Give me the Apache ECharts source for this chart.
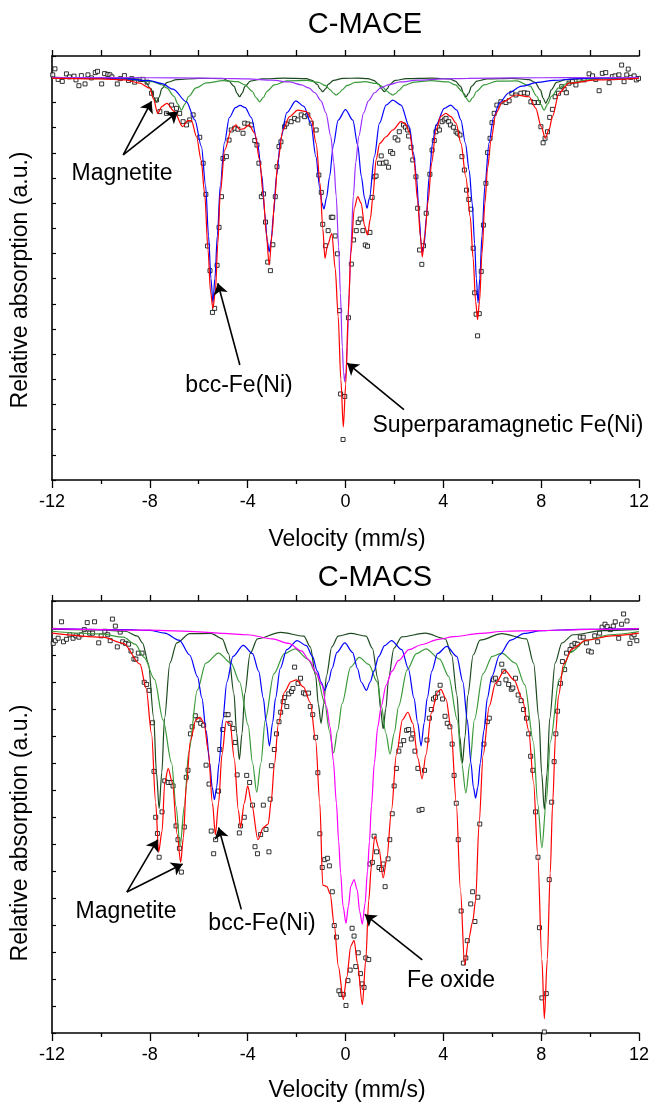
<!DOCTYPE html>
<html><head><meta charset="utf-8">
<script src="https://cdn.jsdelivr.net/npm/echarts@6/dist/echarts.min.js"></script>
<style>html,body{margin:0;padding:0;background:#fff}#c{width:652px;height:1105px}</style>
</head><body><div id="c"></div>
<script>
// ---------- axis values ----------
const X_MIN = -12, X_MAX = 12, X_STEP = 4;
const TOP_Y = {min: -16, max: 0.85};
const BOT_Y = {min: -15, max: 1};
const TITLES = ['C-MACE', 'C-MACS'];
const X_NAME = 'Velocity (mm/s)';
const Y_NAME = 'Relative absorption (a.u.)';

// ---------- C-MACE (top) ----------
const topMeasured = [[-11.97,0.10],[-11.88,0.34],[-11.75,-0.08],[-11.58,-0.16],[-11.41,0.14],[-11.29,0.02],[-11.10,0.05],[-11.02,-0.10],[-10.90,-0.33],[-10.80,0.07],[-10.65,-0.26],[-10.53,0.10],[-10.39,-0.02],[-10.23,0.19],[-10.14,0.24],[-9.97,-0.26],[-9.85,0.15],[-9.72,0.12],[-9.63,0.10],[-9.55,0.02],[-9.33,-0.26],[-9.21,-0.05],[-9.04,0.07],[-8.87,-0.12],[-8.74,-0.05],[-8.62,-0.19],[-8.40,-0.08],[-8.28,-0.08],[-8.11,-0.19],[-7.93,-0.63],[-7.73,-0.90],[-7.59,-1.36],[-7.32,-1.43],[-7.11,-1.10],[-6.91,-1.23],[-6.78,-1.43],[-6.64,-1.76],[-6.50,-1.89],[-6.37,-1.69],[-6.23,-1.49],[-5.96,-2.38],[-5.82,-3.41],[-5.71,-4.65],[-5.64,-6.70],[-5.54,-7.68],[-5.44,-9.34],[-5.35,-9.18],[-5.25,-7.47],[-5.17,-5.96],[-5.07,-4.74],[-5.01,-3.22],[-4.87,-3.15],[-4.76,-2.49],[-4.67,-2.09],[-4.53,-2.02],[-4.40,-2.06],[-4.19,-2.22],[-4.12,-1.82],[-3.99,-1.85],[-3.85,-1.89],[-3.71,-2.51],[-3.62,-2.69],[-3.54,-3.41],[-3.44,-4.74],[-3.35,-4.63],[-3.27,-5.75],[-3.18,-7.34],[-3.07,-7.68],[-2.97,-6.65],[-2.87,-4.74],[-2.80,-3.55],[-2.72,-2.75],[-2.64,-2.56],[-2.49,-1.96],[-2.42,-1.85],[-2.22,-1.76],[-2.08,-1.63],[-1.95,-1.69],[-1.81,-1.49],[-1.67,-1.56],[-1.54,-1.49],[-1.40,-1.82],[-1.20,-2.09],[-1.09,-3.88],[-0.99,-4.57],[-0.93,-5.84],[-0.82,-6.69],[-0.71,-6.09],[-0.58,-5.56],[-0.52,-5.56],[-0.42,-6.30],[-0.33,-7.01],[-0.24,-9.27],[-0.20,-12.58],[-0.10,-14.39],[-0.03,-12.68],[0.12,-9.55],[0.24,-7.42],[0.33,-6.46],[0.44,-6.09],[0.52,-5.77],[0.60,-5.63],[0.71,-6.09],[0.81,-6.66],[0.90,-6.71],[1.00,-6.16],[1.09,-4.77],[1.18,-3.95],[1.25,-3.92],[1.39,-3.41],[1.46,-3.12],[1.55,-3.41],[1.66,-3.37],[1.76,-3.57],[1.84,-2.95],[1.93,-3.02],[2.03,-2.40],[2.14,-2.49],[2.20,-2.16],[2.37,-1.89],[2.45,-1.98],[2.54,-2.09],[2.58,-2.33],[2.68,-2.78],[2.75,-3.28],[2.88,-3.95],[2.95,-5.20],[3.03,-6.86],[3.12,-7.43],[3.19,-6.69],[3.30,-5.40],[3.45,-3.85],[3.54,-2.89],[3.63,-2.51],[3.70,-2.16],[3.77,-1.98],[3.84,-2.09],[3.95,-1.76],[4.04,-1.69],[4.11,-1.63],[4.22,-1.76],[4.29,-1.89],[4.41,-1.98],[4.52,-2.16],[4.59,-2.22],[4.68,-2.29],[4.76,-3.15],[4.86,-3.68],[4.95,-4.48],[5.04,-4.85],[5.13,-5.24],[5.22,-6.79],[5.28,-8.56],[5.34,-9.41],[5.40,-10.27],[5.47,-9.39],[5.55,-7.71],[5.64,-5.87],[5.74,-4.21],[5.81,-2.99],[5.91,-2.42],[5.99,-1.80],[6.08,-1.43],[6.19,-1.10],[6.35,-0.97],[6.56,-1.00],[6.69,-0.93],[6.80,-0.63],[6.97,-0.70],[7.17,-0.63],[7.31,-0.61],[7.44,-0.63],[7.58,-0.97],[7.71,-1.00],[7.89,-1.00],[7.99,-1.96],[8.08,-2.60],[8.16,-2.42],[8.26,-2.16],[8.35,-1.59],[8.46,-1.27],[8.57,-0.77],[8.71,-0.63],[8.84,-0.37],[8.94,-0.47],[9.03,-0.61],[9.14,-0.23],[9.28,-0.17],[9.42,-0.30],[9.55,-0.10],[9.76,-0.10],[9.96,0.14],[10.10,0.06],[10.23,-0.08],[10.37,-0.53],[10.50,0.16],[10.64,0.19],[10.78,-0.21],[10.91,0.03],[11.02,0.06],[11.18,0.10],[11.29,0.49],[11.39,-0.17],[11.50,0.10],[11.56,0.33],[11.66,0.00],[11.80,0.06],[11.89,-0.10],[11.98,-0.04]];

const topFit = [[-12,-0.03],[-10,-0.06],[-9,-0.1],[-8.41,-0.23],[-8.0,-0.43],[-7.85,-0.85],[-7.68,-1.43],[-7.5,-1.15],[-7.3,-1.03],[-7.0,-1.35],[-6.66,-1.96],[-6.45,-1.72],[-6.30,-1.72],[-6.09,-2.36],[-5.90,-3.3],[-5.76,-4.61],[-5.62,-6.86],[-5.52,-8.5],[-5.42,-9.18],[-5.32,-8.5],[-5.22,-6.6],[-5.12,-4.61],[-4.94,-2.89],[-4.67,-2.09],[-4.48,-1.89],[-4.33,-2.07],[-4.19,-2.05],[-3.95,-1.89],[-3.71,-2.22],[-3.51,-3.28],[-3.36,-4.7],[-3.24,-6.2],[-3.12,-7.46],[-3.0,-6.2],[-2.9,-4.87],[-2.76,-3.28],[-2.56,-2.09],[-2.29,-1.56],[-1.95,-1.30],[-1.60,-1.36],[-1.40,-1.63],[-1.20,-2.62],[-1.04,-4.21],[-0.93,-6.0],[-0.84,-7.19],[-0.74,-6.7],[-0.56,-6.20],[-0.42,-7.6],[-0.30,-9.5],[-0.19,-12.0],[-0.09,-13.89],[0.01,-12.2],[0.11,-9.4],[0.22,-7.0],[0.36,-5.2],[0.50,-4.74],[0.64,-5.0],[0.78,-5.9],[0.90,-6.26],[1.02,-5.6],[1.12,-4.74],[1.25,-3.28],[1.40,-2.62],[1.66,-2.36],[1.93,-2.09],[2.27,-1.76],[2.45,-1.85],[2.62,-2.2],[2.80,-3.3],[2.95,-4.9],[3.06,-6.3],[3.14,-7.14],[3.24,-6.3],[3.38,-4.9],[3.52,-3.41],[3.70,-2.1],[3.9,-1.55],[4.10,-1.43],[4.31,-1.56],[4.52,-1.82],[4.72,-2.62],[4.92,-3.95],[5.10,-5.54],[5.22,-7.2],[5.32,-8.9],[5.40,-9.63],[5.48,-8.9],[5.58,-7.0],[5.70,-5.0],[5.81,-3.6],[5.95,-2.49],[6.15,-1.43],[6.42,-0.97],[6.97,-0.70],[7.51,-0.77],[7.78,-1.23],[8.0,-1.95],[8.17,-2.42],[8.33,-2.05],[8.46,-1.56],[8.73,-0.63],[9.14,-0.23],[10.23,-0.10],[12,-0.04]];

const topBcc = [[-12,0],[-10,-0.03],[-9,-0.06],[-8.0,-0.13],[-7.5,-0.25],[-7.05,-0.47],[-6.5,-0.97],[-6.16,-1.69],[-5.89,-2.75],[-5.72,-4.3],[-5.6,-6.3],[-5.50,-8.0],[-5.42,-8.96],[-5.34,-8.0],[-5.24,-6.3],[-5.12,-4.3],[-4.95,-2.6],[-4.75,-1.6],[-4.5,-1.2],[-4.31,-1.11],[-4.1,-1.2],[-3.85,-1.6],[-3.6,-2.6],[-3.42,-3.9],[-3.30,-5.4],[-3.20,-6.5],[-3.12,-6.93],[-3.04,-6.5],[-2.94,-5.4],[-2.82,-3.9],[-2.64,-2.4],[-2.4,-1.4],[-2.03,-0.93],[-1.7,-1.15],[-1.42,-1.82],[-1.21,-3.15],[-1.05,-4.4],[-0.96,-5.0],[-0.88,-5.23],[-0.78,-4.8],[-0.65,-3.95],[-0.5,-2.7],[-0.3,-1.7],[0.0,-1.28],[0.3,-1.7],[0.5,-2.7],[0.65,-3.95],[0.78,-4.8],[0.88,-5.20],[0.98,-4.8],[1.18,-3.15],[1.39,-1.82],[1.66,-1.10],[1.93,-0.90],[2.27,-1.10],[2.61,-1.96],[2.78,-3.0],[2.90,-3.95],[3.02,-5.6],[3.09,-6.6],[3.15,-6.93],[3.22,-6.6],[3.30,-5.6],[3.42,-3.95],[3.56,-2.6],[3.70,-1.9],[4.04,-1.23],[4.30,-1.10],[4.55,-1.3],[4.72,-1.7],[4.90,-2.6],[5.06,-3.7],[5.18,-5.0],[5.28,-6.6],[5.35,-8.0],[5.42,-8.96],[5.49,-8.0],[5.58,-6.3],[5.70,-4.3],[5.87,-2.6],[6.05,-1.6],[6.3,-1.0],[6.67,-0.62],[7.2,-0.35],[7.86,-0.2],[8.5,-0.12],[9.55,-0.05],[10.5,-0.02],[12,0]];

const topSuperpara = [[-12,-0.01],[-9,-0.01],[-7,-0.02],[-5,-0.04],[-4,-0.06],[-3,-0.11],[-2.3,-0.18],[-1.8,-0.30],[-1.5,-0.42],[-1.25,-0.61],[-1.0,-0.93],[-0.8,-1.41],[-0.6,-2.35],[-0.48,-3.38],[-0.38,-4.72],[-0.28,-6.73],[-0.21,-8.56],[-0.13,-10.73],[-0.08,-11.71],[-0.03,-12.1],[0.02,-11.71],[0.07,-10.73],[0.15,-8.56],[0.22,-6.73],[0.32,-4.72],[0.42,-3.38],[0.54,-2.35],[0.74,-1.41],[0.94,-0.93],[1.19,-0.61],[1.44,-0.42],[1.74,-0.30],[2.24,-0.18],[2.94,-0.11],[4,-0.06],[5,-0.04],[7,-0.02],[9,-0.01],[12,-0.01]];

const topMagA = [[-12,-0.01],[-9,-0.03],[-8.5,-0.07],[-8.2,-0.17],[-7.95,-0.45],[-7.84,-0.78],[-7.73,-0.97],[-7.62,-0.78],[-7.51,-0.45],[-7.29,-0.2],[-6.9,-0.09],[-6,-0.04],[-5,-0.05],[-4.77,-0.15],[-4.55,-0.36],[-4.44,-0.62],[-4.33,-0.77],[-4.22,-0.62],[-4.11,-0.36],[-3.89,-0.15],[-3.4,-0.06],[-2.5,-0.03],[-1.6,-0.05],[-1.37,-0.12],[-1.15,-0.28],[-1.04,-0.46],[-0.93,-0.57],[-0.82,-0.46],[-0.71,-0.28],[-0.49,-0.12],[-0.1,-0.04],[0.5,-0.03],[0.92,-0.05],[1.15,-0.12],[1.37,-0.28],[1.48,-0.46],[1.59,-0.57],[1.70,-0.46],[1.81,-0.28],[2.03,-0.12],[2.5,-0.05],[3.5,-0.03],[4.26,-0.06],[4.49,-0.15],[4.71,-0.36],[4.82,-0.62],[4.93,-0.77],[5.04,-0.62],[5.15,-0.36],[5.37,-0.15],[5.8,-0.06],[6.8,-0.04],[7.5,-0.09],[7.75,-0.2],[7.97,-0.5],[8.08,-0.82],[8.19,-1.03],[8.30,-0.82],[8.41,-0.5],[8.63,-0.2],[9.0,-0.09],[10,-0.03],[12,-0.01]];

const topMagB = [[-12,-0.02],[-9.5,-0.05],[-8.5,-0.1],[-7.9,-0.17],[-7.5,-0.3],[-7.31,-0.42],[-7.01,-0.75],[-6.86,-1.05],[-6.71,-1.30],[-6.56,-1.05],[-6.41,-0.75],[-6.11,-0.42],[-5.7,-0.22],[-5.0,-0.13],[-4.4,-0.17],[-4.11,-0.3],[-3.81,-0.55],[-3.66,-0.8],[-3.51,-0.97],[-3.36,-0.8],[-3.21,-0.55],[-2.91,-0.3],[-2.4,-0.14],[-1.6,-0.12],[-1.1,-0.2],[-0.83,-0.32],[-0.62,-0.5],[-0.5,-0.62],[-0.38,-0.70],[-0.26,-0.62],[-0.14,-0.5],[0.07,-0.32],[0.4,-0.2],[0.8,-0.17],[1.26,-0.24],[1.48,-0.35],[1.7,-0.55],[1.82,-0.64],[1.93,-0.70],[2.05,-0.64],[2.18,-0.52],[2.4,-0.32],[2.8,-0.19],[3.5,-0.13],[4.2,-0.18],[4.5,-0.3],[4.76,-0.55],[4.91,-0.8],[5.06,-0.97],[5.21,-0.8],[5.36,-0.55],[5.66,-0.3],[6.2,-0.15],[7.0,-0.14],[7.55,-0.35],[7.82,-0.75],[7.97,-1.05],[8.12,-1.30],[8.27,-1.05],[8.42,-0.75],[8.72,-0.42],[9.1,-0.22],[10,-0.09],[11,-0.04],[12,-0.02]];

// ---------- C-MACS (bottom) ----------
const botMeasured = [[-11.95,-0.57],[-11.86,-0.47],[-11.75,-0.38],[-11.61,0.23],[-11.53,-0.51],[-11.41,-0.42],[-11.27,-0.25],[-11.14,-0.38],[-11.02,-0.29],[-10.90,-0.34],[-10.80,-0.25],[-10.68,-0.06],[-10.56,0.20],[-10.46,-0.19],[-10.34,-0.19],[-10.26,0.23],[-10.09,-0.55],[-9.99,-0.29],[-9.84,-0.12],[-9.72,-0.25],[-9.62,-0.47],[-9.53,0.33],[-9.41,0.07],[-9.33,-0.70],[-9.21,-0.15],[-9.11,-0.51],[-8.99,-0.57],[-8.87,-0.60],[-8.77,-0.85],[-8.65,-1.15],[-8.57,-1.15],[-8.47,-0.93],[-8.32,-0.93],[-8.23,-2.01],[-8.13,-2.09],[-8.03,-2.31],[-7.89,-3.51],[-7.83,-5.31],[-7.76,-7.01],[-7.69,-7.61],[-7.62,-8.49],[-7.50,-6.81],[-7.39,-5.66],[-7.25,-5.72],[-7.13,-5.72],[-7.05,-5.85],[-6.93,-7.33],[-6.85,-7.84],[-6.79,-8.16],[-6.71,-9.04],[-6.59,-7.37],[-6.51,-5.53],[-6.44,-5.27],[-6.34,-3.92],[-6.27,-3.66],[-6.14,-3.25],[-6.03,-3.40],[-5.92,-3.53],[-5.80,-3.60],[-5.70,-5.08],[-5.58,-5.78],[-5.49,-7.52],[-5.39,-8.36],[-5.31,-7.84],[-5.19,-6.04],[-5.14,-4.50],[-5.02,-3.76],[-4.89,-3.21],[-4.80,-3.21],[-4.72,-3.53],[-4.60,-3.72],[-4.51,-4.24],[-4.43,-5.44],[-4.34,-7.59],[-4.29,-7.33],[-4.14,-7.01],[-4.04,-5.46],[-3.92,-5.72],[-3.80,-6.56],[-3.70,-8.10],[-3.60,-8.36],[-3.47,-7.65],[-3.36,-6.56],[-3.25,-7.46],[-3.13,-8.29],[-3.08,-6.34],[-3.03,-5.10],[-2.91,-4.50],[-2.82,-3.92],[-2.72,-3.47],[-2.65,-3.12],[-2.55,-2.73],[-2.49,-2.57],[-2.40,-2.91],[-2.32,-2.44],[-2.21,-2.35],[-2.15,-2.24],[-2.08,-1.45],[-1.94,-2.05],[-1.84,-1.86],[-1.72,-2.40],[-1.64,-2.44],[-1.51,-2.41],[-1.44,-2.91],[-1.34,-3.21],[-1.22,-4.05],[-1.13,-5.36],[-1.05,-7.62],[-0.95,-8.87],[-0.85,-8.58],[-0.74,-8.53],[-0.66,-8.81],[-0.54,-9.77],[-0.46,-11.02],[-0.37,-11.45],[-0.27,-13.44],[-0.19,-13.57],[-0.09,-13.57],[0.02,-13.98],[0.10,-13.06],[0.19,-12.67],[0.27,-11.12],[0.35,-11.41],[0.42,-12.54],[0.52,-12.03],[0.61,-12.80],[0.68,-13.18],[0.76,-13.31],[0.83,-12.22],[0.95,-12.28],[1.00,-8.74],[1.10,-8.68],[1.17,-7.71],[1.27,-8.29],[1.37,-8.87],[1.47,-8.94],[1.54,-8.74],[1.62,-9.58],[1.74,-8.55],[1.81,-7.84],[1.91,-6.88],[1.99,-5.85],[2.08,-5.20],[2.18,-4.56],[2.25,-4.33],[2.38,-4.17],[2.50,-3.79],[2.58,-3.76],[2.69,-4.11],[2.75,-3.92],[2.84,-4.56],[2.96,-5.20],[3.01,-6.75],[3.13,-6.72],[3.23,-5.27],[3.33,-4.15],[3.43,-3.34],[3.51,-3.02],[3.60,-2.63],[3.68,-2.57],[3.77,-2.41],[3.87,-2.12],[3.97,-2.63],[4.07,-3.27],[4.16,-3.53],[4.27,-3.66],[4.36,-4.30],[4.44,-5.46],[4.53,-6.49],[4.61,-7.84],[4.73,-10.48],[4.82,-12.41],[4.92,-12.22],[4.98,-11.58],[5.12,-10.22],[5.20,-9.77],[5.29,-10.87],[5.41,-9.97],[5.49,-7.26],[5.66,-4.30],[5.80,-3.47],[5.88,-3.34],[6.05,-1.92],[6.13,-1.86],[6.27,-2.05],[6.39,-1.34],[6.47,-1.60],[6.56,-1.92],[6.67,-2.09],[6.78,-2.27],[6.84,-2.22],[6.95,-1.86],[7.06,-2.48],[7.18,-2.69],[7.28,-3.02],[7.40,-3.34],[7.49,-3.92],[7.57,-4.75],[7.66,-5.27],[7.77,-6.81],[7.87,-8.49],[7.93,-11.10],[8.03,-13.70],[8.13,-14.96],[8.21,-13.54],[8.33,-9.32],[8.43,-6.45],[8.53,-4.95],[8.60,-3.92],[8.67,-3.08],[8.79,-2.05],[8.87,-1.24],[8.96,-1.54],[9.04,-0.93],[9.18,-0.80],[9.26,-0.64],[9.38,-0.57],[9.48,-0.60],[9.60,-0.34],[9.72,-0.34],[9.85,-0.55],[9.94,-0.85],[10.05,-0.89],[10.19,-0.29],[10.31,-0.51],[10.39,-0.19],[10.49,0.03],[10.61,0.14],[10.70,0.05],[10.83,-0.06],[10.95,0.07],[11.03,0.23],[11.17,-0.38],[11.29,0.14],[11.37,0.52],[11.51,0.26],[11.63,-0.57],[11.71,-0.34],[11.80,-0.25],[11.91,-0.47]];

const botFit = [[-12,-0.19],[-9.92,-0.34],[-9.08,-0.57],[-8.40,-1.34],[-8.15,-2.24],[-7.93,-3.92],[-7.76,-6.49],[-7.64,-8.29],[-7.50,-7.52],[-7.39,-5.72],[-7.25,-5.21],[-7.08,-5.72],[-6.88,-7.65],[-6.74,-8.68],[-6.63,-7.78],[-6.51,-5.85],[-6.34,-4.17],[-6.12,-3.40],[-5.95,-3.31],[-5.78,-3.53],[-5.61,-4.56],[-5.44,-6.49],[-5.32,-7.65],[-5.19,-6.49],[-5.05,-4.69],[-4.88,-3.47],[-4.72,-3.53],[-4.55,-4.82],[-4.38,-6.75],[-4.29,-7.39],[-4.14,-6.49],[-4.0,-5.85],[-3.84,-6.49],[-3.58,-7.84],[-3.36,-7.39],[-3.16,-7.26],[-3.03,-6.36],[-2.91,-5.08],[-2.74,-3.53],[-2.49,-2.37],[-2.23,-1.99],[-2.01,-1.92],[-1.72,-2.18],[-1.44,-2.76],[-1.22,-4.17],[-1.05,-6.49],[-0.93,-9.52],[-0.76,-9.58],[-0.63,-9.84],[-0.46,-11.0],[-0.29,-12.54],[-0.09,-13.76],[0.05,-12.93],[0.22,-11.77],[0.35,-11.57],[0.49,-12.41],[0.69,-13.95],[0.83,-12.28],[0.95,-10.09],[1.06,-8.81],[1.20,-7.71],[1.37,-8.17],[1.54,-9.26],[1.69,-8.55],[1.88,-6.75],[2.08,-4.69],[2.33,-3.40],[2.55,-3.12],[2.75,-3.53],[2.96,-4.82],[3.13,-5.59],[3.29,-4.69],[3.51,-3.15],[3.77,-2.37],[3.90,-2.27],[4.11,-2.63],[4.31,-3.66],[4.53,-6.49],[4.70,-9.71],[4.87,-12.48],[5.04,-11.51],[5.20,-10.87],[5.32,-10.09],[5.46,-7.26],[5.63,-4.69],[5.88,-2.89],[6.13,-2.05],[6.51,-1.57],[6.89,-1.92],[7.23,-2.63],[7.49,-3.79],[7.69,-5.72],[7.86,-8.42],[8.03,-12.28],[8.13,-14.47],[8.25,-12.28],[8.37,-9.07],[8.47,-6.49],[8.59,-3.92],[8.71,-2.50],[8.92,-1.34],[9.26,-0.77],[9.85,-0.45],[10.87,-0.29],[12,-0.19]];

const botBcc = [[-12,-0.02],[-9,-0.06],[-8,-0.09],[-7.39,-0.19],[-6.8,-0.45],[-6.37,-1.0],[-6.05,-1.8],[-5.87,-2.6],[-5.7,-3.8],[-5.55,-5.0],[-5.45,-5.9],[-5.36,-6.36],[-5.27,-5.9],[-5.17,-5.0],[-5.02,-3.4],[-4.85,-2.0],[-4.6,-1.05],[-4.18,-0.64],[-3.8,-0.95],[-3.55,-1.6],[-3.36,-2.6],[-3.24,-3.5],[-3.11,-4.37],[-2.98,-3.5],[-2.86,-2.6],[-2.67,-1.5],[-2.4,-0.8],[-1.98,-0.47],[-1.6,-0.65],[-1.35,-1.05],[-1.15,-1.6],[-1.0,-2.0],[-0.85,-2.31],[-0.7,-2.0],[-0.55,-1.5],[-0.35,-0.9],[-0.03,-0.55],[0.29,-0.9],[0.49,-1.5],[0.64,-2.0],[0.86,-2.31],[1.01,-2.0],[1.16,-1.6],[1.36,-1.05],[1.6,-0.65],[1.88,-0.47],[2.3,-0.8],[2.57,-1.5],[2.8,-2.6],[2.95,-3.5],[3.09,-4.37],[3.22,-3.5],[3.34,-2.6],[3.53,-1.6],[3.76,-0.95],[4.14,-0.68],[4.55,-1.05],[4.8,-2.0],[4.98,-3.4],[5.13,-5.0],[5.23,-5.9],[5.32,-6.30],[5.41,-5.9],[5.51,-5.0],[5.66,-3.8],[5.80,-2.6],[5.98,-1.8],[6.30,-1.0],[6.75,-0.45],[7.32,-0.2],[8.0,-0.1],[9.6,-0.05],[12,-0.02]];

const botOxide = [[-12,-0.02],[-8,-0.08],[-6,-0.14],[-5,-0.2],[-4,-0.25],[-3,-0.4],[-2.32,-0.57],[-1.8,-0.85],[-1.47,-1.21],[-1.2,-1.65],[-0.96,-2.12],[-0.78,-2.9],[-0.63,-3.66],[-0.5,-4.9],[-0.37,-6.49],[-0.28,-7.9],[-0.2,-9.07],[-0.1,-10.3],[0.02,-10.93],[0.12,-10.3],[0.22,-9.55],[0.35,-9.32],[0.48,-9.7],[0.58,-10.5],[0.69,-10.97],[0.80,-10.2],[0.90,-9.0],[0.98,-7.9],[1.06,-6.6],[1.18,-5.0],[1.32,-3.66],[1.46,-2.9],[1.66,-2.12],[1.9,-1.6],[2.16,-1.21],[2.6,-0.8],[3.09,-0.62],[3.8,-0.42],[4.44,-0.32],[5.5,-0.2],[6.5,-0.12],[7.82,-0.1],[10,-0.05],[12,-0.02]];

const botMagA = [[-12,-0.04],[-10,-0.07],[-9,-0.12],[-8.5,-0.3],[-8.3,-0.55],[-8.06,-1.3],[-7.84,-3.35],[-7.73,-5.35],[-7.62,-6.69],[-7.51,-5.35],[-7.40,-3.35],[-7.18,-1.3],[-6.9,-0.55],[-6.37,-0.21],[-5.5,-0.2],[-5.04,-0.4],[-4.78,-0.95],[-4.56,-2.44],[-4.45,-3.9],[-4.34,-4.88],[-4.23,-3.9],[-4.12,-2.44],[-3.9,-0.95],[-3.6,-0.4],[-2.65,-0.16],[-1.7,-0.3],[-1.44,-0.7],[-1.22,-1.77],[-1.11,-2.82],[-1.0,-3.53],[-0.89,-2.82],[-0.78,-1.77],[-0.56,-0.7],[-0.3,-0.3],[0.22,-0.2],[0.84,-0.3],[1.10,-0.75],[1.32,-1.87],[1.43,-2.98],[1.54,-3.73],[1.65,-2.98],[1.76,-1.87],[1.98,-0.75],[2.3,-0.33],[3.26,-0.19],[4.08,-0.4],[4.34,-1.0],[4.56,-2.5],[4.67,-4.0],[4.78,-5.01],[4.89,-4.0],[5.00,-2.5],[5.22,-1.0],[5.5,-0.45],[6.39,-0.21],[7.4,-0.4],[7.69,-1.3],[7.91,-3.36],[8.02,-5.37],[8.13,-6.72],[8.24,-5.37],[8.35,-3.36],[8.57,-1.3],[8.85,-0.55],[9.3,-0.25],[10.5,-0.1],[12,-0.05]];

const botMagB = [[-12,-0.12],[-10,-0.22],[-9.08,-0.34],[-8.6,-0.6],[-8.23,-1.09],[-7.81,-1.9],[-7.46,-3.4],[-7.11,-5.0],[-6.93,-6.6],[-6.76,-8.10],[-6.59,-6.6],[-6.41,-4.6],[-6.06,-2.3],[-5.71,-1.3],[-5.19,-0.93],[-4.68,-1.3],[-4.33,-2.0],[-3.98,-3.6],[-3.80,-5.0],[-3.63,-6.08],[-3.46,-5.0],[-3.28,-3.4],[-2.93,-1.7],[-2.5,-0.95],[-2.06,-0.77],[-1.54,-1.15],[-1.19,-1.7],[-0.84,-2.8],[-0.66,-3.8],[-0.49,-4.63],[-0.32,-3.8],[-0.14,-2.8],[0.21,-1.45],[0.56,-1.09],[0.95,-1.35],[1.3,-2.0],[1.47,-2.9],[1.65,-3.9],[1.82,-4.67],[1.99,-3.9],[2.17,-2.9],[2.52,-1.55],[2.9,-0.95],[3.29,-0.77],[3.85,-1.15],[4.22,-1.8],[4.57,-3.4],[4.75,-5.0],[4.92,-6.11],[5.09,-5.0],[5.27,-3.4],[5.62,-1.7],[6.0,-1.05],[6.39,-0.93],[6.95,-1.3],[7.33,-2.1],[7.68,-4.2],[7.86,-6.5],[8.03,-8.14],[8.20,-6.5],[8.38,-4.2],[8.73,-1.9],[9.2,-0.9],[9.85,-0.45],[10.8,-0.25],[12,-0.13]];

// ---------- annotations (arrow tail -> head, in data units) ----------
const topArrows = [[[-9.09,-3.08],[-7.93,-0.95]],[[-9.09,-3.08],[-6.85,-1.36]],[[-4.32,-11.43],[-5.22,-8.18]],[[2.39,-13.2],[0.07,-11.36]]];
const botArrows = [[[-8.94,-9.78],[-7.68,-7.84]],[[-8.94,-9.78],[-6.66,-8.74]],[[-4.26,-10.42],[-5.19,-7.39]],[[3.14,-12.29],[0.79,-10.61]]];
const topLabels = ['Magnetite','bcc-Fe(Ni)','Superparamagnetic Fe(Ni)'];
const botLabels = ['Magnetite','bcc-Fe(Ni)','Fe oxide'];

// ---------- chart ----------
const FONT = '"Liberation Sans", Arial, Helvetica, sans-serif';
const chart = echarts.init(document.getElementById('c'), null, {renderer: 'canvas'});

function xAxes(gi) {
  const base = {type: 'value', gridIndex: gi, min: X_MIN, max: X_MAX, interval: X_STEP,
    splitLine: {show: false}, minorSplitLine: {show: false}};
  return [
    Object.assign({}, base, {position: 'bottom',
      axisLine: {show: true, onZero: false, lineStyle: {color: '#000', width: 1.6}},
      axisTick: {show: true, inside: false, length: 8, lineStyle: {color: '#000', width: 1.3}},
      minorTick: {show: true, splitNumber: 2, length: 4, lineStyle: {color: '#000', width: 1.3}},
      axisLabel: {show: true, margin: 13, fontSize: 18, color: '#000', fontFamily: FONT}}),
    Object.assign({}, base, {position: 'top',
      axisLine: {show: true, onZero: false, lineStyle: {color: '#000', width: 1.6}},
      axisTick: {show: true, inside: false, length: 6, lineStyle: {color: '#000', width: 1.3}},
      minorTick: {show: true, splitNumber: 2, length: 6, lineStyle: {color: '#000', width: 1.3}},
      axisLabel: {show: false}})
  ];
}
function yAxis(gi, r) {
  return {type: 'value', gridIndex: gi, min: r.min, max: r.max, interval: 1,
    axisLine: {show: true, onZero: false, lineStyle: {color: '#000', width: 1.6}},
    axisTick: {show: true, inside: true, length: 4, lineStyle: {color: '#000', width: 1.2}},
    axisLabel: {show: false}, splitLine: {show: false}};
}
function line(xi, yi, data, color, w) {
  return {type: 'line', xAxisIndex: xi, yAxisIndex: yi, data: data, showSymbol: false,
    smooth: 0.3, smoothMonotone: 'x', silent: true,
    lineStyle: {color: color, width: w || 1.2}, itemStyle: {color: color}};
}
function scatter(xi, yi, data, arrows) {
  return {type: 'scatter', xAxisIndex: xi, yAxisIndex: yi, data: data, symbol: 'rect',
    symbolSize: 4, silent: true,
    itemStyle: {color: '#fff', borderColor: '#000', borderWidth: 1},
    markLine: {silent: true, symbol: ['none', 'arrow'], symbolSize: 11,
      label: {show: false}, lineStyle: {color: '#000', width: 1.6, type: 'solid'},
      itemStyle: {color: '#000'},
      emphasis: {disabled: true},
      data: arrows.map(a => [{coord: a[0]}, {coord: a[1]}])}};
}
function txt(t, x, y, size, rot) {
  return {type: 'text', x: x, y: y, rotation: rot || 0, silent: true,
    style: {text: t, fill: '#000', font: size + 'px ' + FONT,
      textAlign: 'center', align: 'center', verticalAlign: 'middle', textVerticalAlign: 'middle'}};
}

const DKGREEN = '#1b4a1e', GREEN = '#3a9a3a', BLUE = '#0000ff', RED = '#ff0000';

chart.setOption({
  animation: false,
  backgroundColor: '#fff',
  grid: [
    {left: 52, top: 56, width: 589, height: 424},
    {left: 52, top: 601, width: 589, height: 432}
  ],
  xAxis: xAxes(0).concat(xAxes(1)),
  yAxis: [yAxis(0, TOP_Y), yAxis(1, BOT_Y)],
  series: [
    line(0, 0, topMagA, DKGREEN), line(0, 0, topMagB, GREEN),
    line(0, 0, topBcc, BLUE), line(0, 0, topSuperpara, '#9b30ff'),
    line(0, 0, topFit, RED), scatter(0, 0, topMeasured, topArrows),
    line(2, 1, botMagA, DKGREEN), line(2, 1, botMagB, GREEN),
    line(2, 1, botBcc, BLUE), line(2, 1, botOxide, '#ff00ff'),
    line(2, 1, botFit, RED), scatter(2, 1, botMeasured, botArrows)
  ],
  graphic: [
    txt(TITLES[0], 365, 25, 29), txt(TITLES[1], 375, 578, 29),
    txt(X_NAME, 347, 540, 23), txt(X_NAME, 347, 1091, 23),
    txt(Y_NAME, 21, 280, 23, Math.PI / 2), txt(Y_NAME, 21, 833, 23, Math.PI / 2),
    txt(topLabels[0], 122, 174, 23), txt(topLabels[1], 239, 386, 23), txt(topLabels[2], 508, 426, 23),
    txt(botLabels[0], 126, 912, 23), txt(botLabels[1], 262, 924, 23), txt(botLabels[2], 451, 981, 23)
  ]
});
</script></body></html>
